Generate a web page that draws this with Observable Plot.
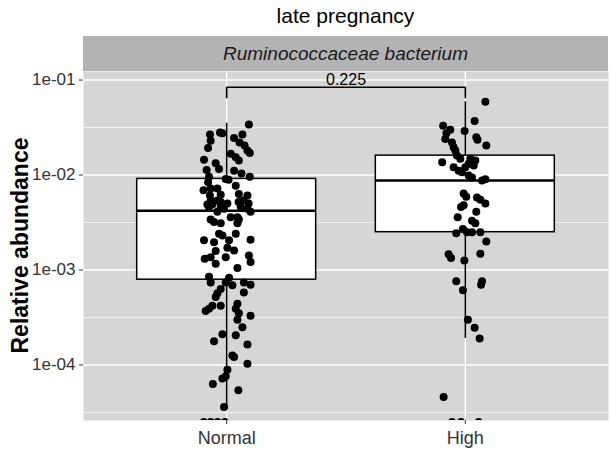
<!DOCTYPE html>
<html>
<head>
<meta charset="utf-8">
<script src="https://cdn.jsdelivr.net/npm/d3@7"></script>
<script src="https://cdn.jsdelivr.net/npm/@observablehq/plot@0.6"></script>
<style>
  html, body { margin: 0; padding: 0; background: white; }
  #chart { width: 610px; height: 452px; }
</style>
</head>
<body>
<div id="chart"></div>
<script>
// ---- data ----
const titleText = "late pregnancy";
const stripText = "Ruminococcaceae bacterium";
const yAxisTitle = "Relative abundance";
const categories = ["Normal", "High"];

// box-plot statistics (per category)
const q1 = [7.9e-4, 2.5e-3];
const median = [4.2e-3, 8.75e-3];
const q3 = [9.1e-3, 1.6e-2];
const whiskerLow = [3.6e-5, 1.9e-4];
const whiskerHigh = [3.5e-2, 5.9e-2];

// y ticks
const yTicks = [1e-4, 1e-3, 1e-2, 1e-1];
const yTickLabels = ["1e-04", "1e-03", "1e-02", "1e-01"];
const yMinor = [Math.SQRT1_2 * 0 + 3.1623e-5, 3.1623e-4, 3.1623e-3, 3.1623e-2];

// significance bracket
const pValueLabel = "0.225";
const bracketTop = 0.084;
const bracketEnd = 0.065;

// jittered points: horizontal jitter (category units) and abundance
const normalJitter = [0.093,-0.070,-0.028,-0.018,0.031,0.066,-0.067,0.054,0.075,-0.078,
  0.087,0.097,0.017,0.038,0.051,-0.095,-0.046,-0.032,-0.084,0.031,
  0.062,0.097,-0.074,-0.004,0.008,-0.078,0.038,-0.097,-0.067,-0.039,
  -0.025,-0.070,0.051,0.087,-0.067,-0.039,-0.025,0.003,-0.081,-0.060,
  0.050,0.071,0.092,-0.074,-0.025,-0.011,0.059,0.087,0.100,-0.039,
  0.017,0.045,0.051,-0.067,-0.053,-0.025,0.045,0.038,-0.032,-0.018,
  -0.095,-0.053,0.010,0.100,-0.046,0.003,0.031,0.093,0.100,-0.092,
  -0.067,-0.046,-0.004,0.045,-0.074,-0.067,0.010,-0.004,0.024,0.072,
  0.100,-0.025,-0.039,-0.046,0.072,-0.060,-0.025,-0.074,-0.088,0.045,
  0.038,0.051,0.045,0.100,0.066,-0.018,0.038,-0.053,0.087,0.024,
  0.031,0.087,0.003,-0.004,-0.018,-0.058,0.049,-0.011,-0.096,-0.067,
  -0.038,-0.008];
const normalValue = [3.4e-2,2.67e-2,2.8e-2,2.75e-2,2.46e-2,2.67e-2,2.3e-2,2.2e-2,2.05e-2,1.93e-2,
  1.81e-2,1.7e-2,1.67e-2,1.54e-2,1.42e-2,1.45e-2,1.33e-2,1.16e-2,1.13e-2,1.11e-2,
  1.04e-2,9.6e-3,9.6e-3,9.1e-3,8.9e-3,8.4e-3,7.7e-3,6.9e-3,7.2e-3,7.2e-3,
  6.2e-3,6.1e-3,6.3e-3,6.1e-3,5.4e-3,5.4e-3,5.2e-3,5.0e-3,4.9e-3,4.9e-3,
  5.2e-3,5.4e-3,5.0e-3,4.6e-3,4.6e-3,4.4e-3,4.6e-3,4.4e-3,4.1e-3,4.1e-3,
  3.6e-3,3.6e-3,3.4e-3,3.4e-3,3.2e-3,3.1e-3,3.1e-3,2.4e-3,2.4e-3,2.3e-3,
  2.05e-3,1.96e-3,2.05e-3,2.08e-3,1.58e-3,1.71e-3,1.6e-3,1.42e-3,1.21e-3,1.31e-3,
  1.36e-3,1.16e-3,1.36e-3,1.05e-3,8.5e-4,7.4e-4,8.3e-4,7.4e-4,6.9e-4,7.4e-4,
  7.0e-4,6.3e-4,5.7e-4,5.2e-4,5.8e-4,4.2e-4,4.2e-4,3.9e-4,3.7e-4,4.4e-4,
  3.9e-4,3.5e-4,3.0e-4,3.3e-4,2.5e-4,2.1e-4,2.05e-4,1.78e-4,1.64e-4,1.26e-4,
  1.21e-4,1.03e-4,8.9e-5,7.6e-5,7.2e-5,6.3e-5,5.4e-5,3.6e-5,2.5e-5,2.5e-5,
  2.5e-5,2.5e-5];
const highJitter = [0.084,0.039,-0.093,-0.063,-0.079,-0.003,0.046,0.051,0.088,-0.084,
  -0.056,-0.049,-0.042,-0.035,-0.021,0.021,0.042,0.035,-0.097,-0.049,
  -0.028,-0.014,0.000,0.014,0.014,0.028,0.070,0.084,-0.007,0.004,
  0.049,0.063,0.084,-0.018,-0.007,0.046,-0.032,0.028,0.042,-0.038,
  -0.010,0.007,0.028,0.063,0.088,-0.070,-0.060,0.063,-0.004,-0.038,
  0.070,0.066,-0.010,0.011,0.039,0.060,-0.091,-0.056,-0.018,0.056];
const highValue = [5.9e-2,3.7e-2,3.3e-2,3.0e-2,2.75e-2,2.9e-2,2.5e-2,2.35e-2,2.05e-2,2.4e-2,
  2.2e-2,1.96e-2,1.81e-2,1.6e-2,1.48e-2,1.48e-2,1.42e-2,1.26e-2,1.36e-2,1.21e-2,
  1.11e-2,1.07e-2,1.21e-2,1.31e-2,9.9e-3,9.4e-3,8.75e-3,9.0e-3,6.4e-3,5.9e-3,
  5.8e-3,5.5e-3,5.0e-3,4.6e-3,4.8e-3,4.1e-3,3.6e-3,3.3e-3,3.1e-3,2.44e-3,
  2.7e-3,2.5e-3,2.5e-3,2.5e-3,2.0e-3,1.46e-3,1.34e-3,1.48e-3,1.26e-3,7.6e-4,
  7.6e-4,7.0e-4,6.1e-4,3.0e-4,2.46e-4,1.9e-4,4.6e-5,2.5e-5,2.5e-5,2.5e-5];

// ---- tables built from the arrays ----
const boxes = categories.map((c, i) => ({
  pos: i + 1, q1: q1[i], median: median[i], q3: q3[i], lo: whiskerLow[i], hi: whiskerHigh[i]
}));
const points = [
  ...normalValue.map((v, i) => ({x: 1 + normalJitter[i], y: v})),
  ...highValue.map((v, i) => ({x: 2 + highJitter[i], y: v}))
];
const bracket = [
  {x: 1, y: bracketEnd}, {x: 1, y: bracketTop}, {x: 2, y: bracketTop}, {x: 2, y: bracketEnd}
];
const tickLabelOf = new Map(yTicks.map((v, i) => [v, yTickLabels[i]]));
const halfBox = 0.375;

const font = "'Liberation Sans', Arial, Helvetica, sans-serif";

const plot = Plot.plot({
  width: 610,
  height: 452,
  marginTop: 71,
  marginBottom: 32,
  marginLeft: 83,
  marginRight: 2,
  style: {fontFamily: font, background: "white", color: "#333"},
  x: {type: "linear", domain: [0.4, 2.6], axis: null},
  y: {type: "log", domain: [2.6e-5, 0.123], axis: null},
  marks: [
    Plot.frame({fill: "#d6d6d6", stroke: null}),
    Plot.ruleY(yMinor, {stroke: "white", strokeWidth: 0.7}),
    Plot.ruleY(yTicks, {stroke: "white", strokeWidth: 1.4}),
    Plot.ruleX([1, 2], {stroke: "white", strokeWidth: 1.4}),
    Plot.ruleX(boxes, {x: "pos", y1: "lo", y2: "hi", stroke: "black", strokeWidth: 1.5}),
    Plot.rect(boxes, {x1: d => d.pos - halfBox, x2: d => d.pos + halfBox, y1: "q1", y2: "q3",
      fill: "white", stroke: "black", strokeWidth: 1.5}),
    Plot.ruleY(boxes, {y: "median", x1: d => d.pos - halfBox, x2: d => d.pos + halfBox,
      stroke: "black", strokeWidth: 2.6}),
    Plot.dot(points, {x: "x", y: "y", r: 4, fill: "black", stroke: null, clip: true}),
    Plot.line(bracket, {x: "x", y: "y", stroke: "black", strokeWidth: 1.6}),
    Plot.text([pValueLabel], {x: () => 1.5, y: () => bracketTop, text: d => d,
      lineAnchor: "bottom", dy: -2, fontSize: 16, fill: "black"}),
    Plot.axisY({ticks: yTicks, tickFormat: d => tickLabelOf.get(d), tickSize: 4, tickPadding: 4,
      fontSize: 17, color: "#333", label: null}),
    Plot.axisX({ticks: [1, 2], tickFormat: d => categories[d - 1], tickSize: 4, tickPadding: 7,
      fontSize: 18, color: "#333", label: null})
  ]
});

document.getElementById("chart").appendChild(plot);

// titles and facet strip, positioned with the plot's scales
const xs = plot.scale("x");
const x0 = xs.apply(0.4), x1 = xs.apply(2.6);
const cx = (x0 + x1) / 2;
const svg = d3.select(plot);

svg.append("rect")
  .attr("x", x0).attr("y", 36).attr("width", x1 - x0).attr("height", 35)
  .attr("fill", "#b3b3b3");
svg.append("text")
  .attr("x", cx).attr("y", 60)
  .attr("text-anchor", "middle")
  .attr("font-style", "italic")
  .attr("font-size", 19)
  .attr("fill", "#1a1a1a")
  .text(stripText);
svg.append("text")
  .attr("x", cx).attr("y", 23)
  .attr("text-anchor", "middle")
  .attr("font-size", 21)
  .attr("fill", "black")
  .text(titleText);
svg.append("text")
  .attr("transform", "translate(28,245.5) rotate(-90)")
  .attr("text-anchor", "middle")
  .attr("font-size", 23)
  .attr("font-weight", "bold")
  .attr("fill", "black")
  .text(yAxisTitle);
</script>
</body>
</html>
